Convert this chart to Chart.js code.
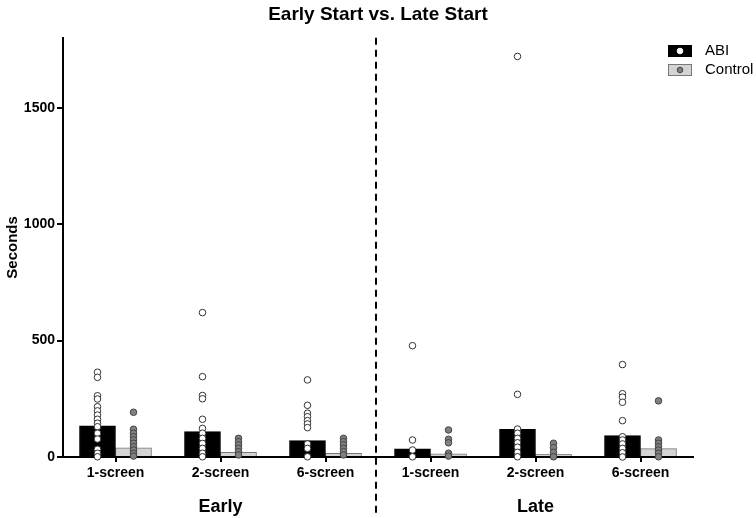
<!DOCTYPE html>
<html lang="en">
<head>
<meta charset="UTF-8">
<title>Early Start vs. Late Start</title>
<script src="https://cdn.jsdelivr.net/npm/chart.js"></script>
<style>
  body { margin: 0; background: #fff; }
  .wrap { width: 756px; height: 518px; }
</style>
</head>
<body>
<div class="wrap"><canvas id="chart" width="756" height="518"></canvas></div>
<script>
// data
const categories = ['1-screen', '2-screen', '6-screen', '1-screen', '2-screen', '6-screen'];
const groups = ['Early', 'Late'];
const seriesNames = ['ABI', 'Control'];
const abiMeans = [134, 109, 70, 35, 119, 92];
const controlMeans = [39, 20, 16, 14, 12, 36];
const abiPoints = [
  [364, 342, 263, 249, 216, 198, 180, 162, 145, 130, 102, 77, 33, 16, 1],
  [620, 345, 264, 250, 162, 123, 102, 80, 58, 37, 16, 1],
  [331, 222, 188, 173, 156, 142, 126, 56, 37, 1],
  [478, 73, 30, 1],
  [1720, 269, 120, 102, 80, 61, 42, 20, 1],
  [397, 272, 257, 235, 156, 87, 73, 56, 37, 18, 0]
];
const controlPoints = [
  [192, 119, 102, 87, 73, 59, 44, 30, 16, 4],
  [80, 66, 52, 37, 23, 9],
  [80, 66, 52, 37, 23, 9],
  [116, 76, 61, 16, 4],
  [59, 40, 20, 1],
  [241, 73, 59, 44, 30, 16, 1]
];
const yTicks = [0, 500, 1000, 1500];
const yMax = 1800;

const catPct = 0.686;           // share of a category taken by the two bars
const shift = catPct / 4;       // centre of each bar relative to the tick

function bars(means, s) {
  return means.map((v, i) => ({ x: i + s, y: v }));
}

function dots(points, s) {
  const out = [];
  points.forEach((list, i) => list.forEach(v => out.push({ x: i + s, y: v })));
  return out;
}

const groupLabels = categories.map((c, i) => (i % 3 === 1 ? groups[Math.floor(i / 3)] : ''));

const dividerPlugin = {
  id: 'divider',
  afterDatasetsDraw(chart) {
    const ctx = chart.ctx;
    const x = Math.round(chart.scales.xs.getPixelForValue(2.5)) - 2;
    ctx.save();
    ctx.strokeStyle = '#000';
    ctx.lineWidth = 2;
    ctx.setLineDash([7, 5]);
    ctx.beginPath();
    ctx.moveTo(x, chart.chartArea.top);
    ctx.lineTo(x, chart.height - 5);
    ctx.stroke();
    ctx.restore();
  }
};

const legendPlugin = {
  id: 'boxLegend',
  afterDraw(chart) {
    const ctx = chart.ctx;
    const items = [
      { fill: '#000', stroke: '#000', dot: '#fff', dotStroke: '#fff' },
      { fill: '#d4d4d4', stroke: '#777', dot: '#808080', dotStroke: '#444' }
    ];
    ctx.save();
    items.forEach((it, k) => {
      const y = 51 + k * 19;
      ctx.fillStyle = it.fill;
      ctx.fillRect(668, y - 6, 24, 12);
      ctx.strokeStyle = it.stroke;
      ctx.lineWidth = 1;
      ctx.strokeRect(668.5, y - 5.5, 23, 11);
      ctx.beginPath();
      ctx.arc(680, y, 2.8, 0, Math.PI * 2);
      ctx.fillStyle = it.dot;
      ctx.fill();
      ctx.strokeStyle = it.dotStroke;
      ctx.stroke();
      ctx.fillStyle = '#000';
      ctx.font = '15px "Liberation Sans", Arial, sans-serif';
      ctx.textBaseline = 'middle';
      ctx.fillText(seriesNames[k], 705, y);
    });
    ctx.restore();
  }
};

const font = '"Liberation Sans", Arial, sans-serif';

new Chart(document.getElementById('chart'), {
  type: 'bar',
  data: {
    labels: categories,
    datasets: [
      {
        type: 'scatter', label: seriesNames[0] + ' points', data: dots(abiPoints, -shift),
        xAxisID: 'xs', backgroundColor: '#fff', borderColor: '#333', borderWidth: 1,
        pointRadius: 3.3, order: 0, clip: false
      },
      {
        type: 'scatter', label: seriesNames[1] + ' points', data: dots(controlPoints, shift),
        xAxisID: 'xs', backgroundColor: '#808080', borderColor: '#444', borderWidth: 1,
        pointRadius: 3.3, order: 0, clip: false
      },
      {
        label: seriesNames[0], data: bars(abiMeans, -shift), xAxisID: 'xs',
        backgroundColor: '#000', borderColor: '#000', borderWidth: 1,
        grouped: false, barPercentage: 1, categoryPercentage: 1, order: 1
      },
      {
        label: seriesNames[1], data: bars(controlMeans, shift), xAxisID: 'xs',
        backgroundColor: '#d4d4d4', borderColor: '#777', borderWidth: 1,
        grouped: false, barPercentage: 1, categoryPercentage: 1, order: 1
      }
    ]
  },
  options: {
    responsive: false,
    animation: false,
    layout: { padding: 0 },
    plugins: {
      legend: { display: false },
      tooltip: { enabled: false },
      title: {
        display: true,
        text: 'Early Start vs. Late Start',
        color: '#000',
        font: { family: font, size: 19, weight: 'bold' },
        padding: { top: 3, bottom: 12 }
      }
    },
    scales: {
      x: {
        type: 'category',
        position: 'bottom',
        weight: 0,
        offset: true,
        border: { display: true, color: '#000', width: 2 },
        grid: { display: true, drawOnChartArea: false, offset: false, drawTicks: true, tickLength: 5, color: '#000', lineWidth: 2 },
        ticks: { color: '#000', font: { family: font, size: 14, weight: 'bold' }, padding: 3, maxRotation: 0, autoSkip: false },
        afterFit(scale) { scale.height = 30; }
      },
      xg: {
        type: 'category',
        position: 'bottom',
        weight: 1,
        labels: groupLabels,
        offset: true,
        border: { display: false },
        grid: { display: false, drawTicks: false },
        ticks: { color: '#000', font: { family: font, size: 18, weight: 'bold' }, padding: 9, maxRotation: 0, autoSkip: false },
        afterFit(scale) { scale.height = 31; }
      },
      xs: {
        type: 'linear',
        display: false,
        offset: false,
        grid: { offset: false },
        min: -0.5,
        max: categories.length - 0.5
      },
      y: {
        min: 0,
        max: yMax,
        border: { display: true, color: '#000', width: 2 },
        grid: { display: true, drawOnChartArea: false, drawTicks: true, tickLength: 6, color: '#000', lineWidth: 2 },
        ticks: { color: '#000', font: { family: font, size: 14, weight: 'bold' }, padding: 2, callback: v => String(v) },
        afterBuildTicks(scale) { scale.ticks = yTicks.map(v => ({ value: v })); },
        title: { display: true, text: 'Seconds', color: '#000', font: { family: font, size: 15, weight: 'bold' }, padding: 4 },
        afterFit(scale) { scale.width = 63; }
      },
      // empty right-hand strip, keeps room for the legend
      yr: {
        position: 'right',
        display: true,
        border: { display: false },
        grid: { display: false, drawTicks: false },
        ticks: { display: false },
        afterFit(scale) { scale.width = 63; }
      }
    }
  },
  plugins: [dividerPlugin, legendPlugin]
});
</script>
</body>
</html>
